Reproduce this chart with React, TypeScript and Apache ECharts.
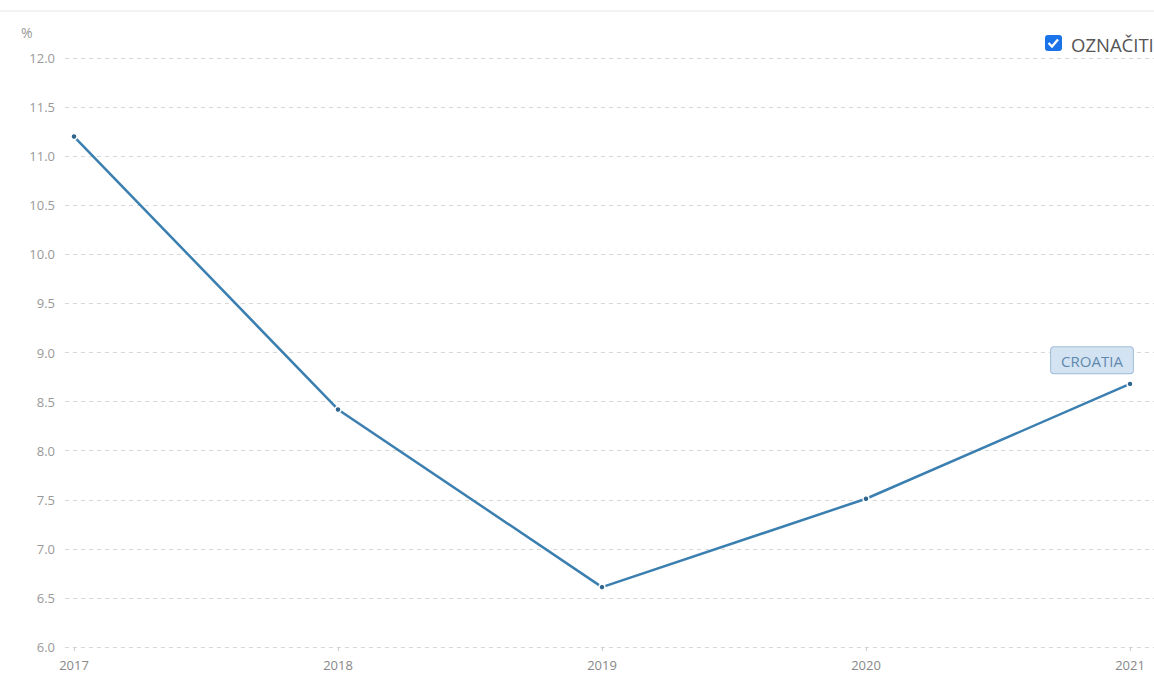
import React, { useEffect, useRef } from "react";
import * as echarts from "echarts";

const years = ["2017", "2018", "2019", "2020", "2021"];
const values = [11.2, 8.42, 6.61, 7.51, 8.68];
const seriesName = "CROATIA";
const yMin = 6;
const yMax = 12;
const yStep = 0.5;
const unitLabel = "%";
const legendLabel = "OZNAČITI";

export default function App() {
  const ref = useRef<HTMLDivElement>(null);
  useEffect(() => {
    if (!ref.current) return;
    const chart = echarts.init(ref.current, null, { renderer: "svg" });
    const font = "'Open Sans', 'Noto Sans', sans-serif";
    const last = values.length - 1;
    chart.setOption({
      animation: false,
      textStyle: { fontFamily: font },
      grid: [
        { left: 65, right: 0, top: 58, bottom: 30 },
        { left: 74, right: 24, top: 58, bottom: 30 },
      ],
      xAxis: [
        { type: "category", gridIndex: 0, show: false, data: years },
        {
          type: "category",
          gridIndex: 1,
          data: years,
          boundaryGap: false,
          axisLine: { show: false },
          axisTick: { show: true, length: 4, lineStyle: { color: "#ccc" } },
          axisLabel: { color: "#888", fontSize: 13, margin: 11, fontFamily: font },
          splitLine: { show: false },
        },
      ],
      yAxis: [
        {
          type: "value",
          gridIndex: 0,
          min: yMin,
          max: yMax,
          interval: yStep,
          axisLine: { show: false },
          axisTick: { show: false },
          axisLabel: {
            color: "#999",
            fontSize: 13,
            margin: 10,
            fontFamily: font,
            formatter: (v: number) => v.toFixed(1),
          },
          splitLine: { show: true, lineStyle: { color: "#d8d8d8", type: [4, 4], width: 1 } },
        },
        {
          type: "value",
          gridIndex: 1,
          min: yMin,
          max: yMax,
          interval: yStep,
          show: false,
          splitLine: { show: false },
        },
      ],
      graphic: [
        { type: "line", shape: { x1: 0, y1: 11, x2: 1154, y2: 11 }, style: { stroke: "#e6e6e6", lineWidth: 1 } },
        { type: "text", left: 21, top: 25, style: { text: unitLabel, fill: "#999", fontSize: 14, fontFamily: font } },
        { type: "rect", shape: { x: 1045, y: 35, width: 17, height: 16, r: 3 }, style: { fill: "#1a73e8" } },
        {
          type: "polyline",
          shape: { points: [[1048.5, 43], [1052, 46.5], [1058, 39.5]] },
          style: { stroke: "#fff", lineWidth: 2.3, fill: null },
        },
        {
          type: "text",
          x: 1071,
          y: 44,
          style: { text: legendLabel, fill: "#555", fontSize: 18.5, fontFamily: font, verticalAlign: "middle" },
        },
      ],
      series: [
        {
          name: seriesName,
          type: "line",
          xAxisIndex: 1,
          yAxisIndex: 1,
          data: values.map((v, i) =>
            i === last
              ? {
                  value: v,
                  label: {
                    show: true,
                    position: "top",
                    distance: 7,
                    offset: [-38, 0],
                    formatter: seriesName,
                    color: "#6189b0",
                    fontSize: 15,
                    fontFamily: font,
                    backgroundColor: "#d3e3f1",
                    borderColor: "#9dbcd8",
                    borderWidth: 1,
                    borderRadius: 3,
                    padding: [6, 10, 5, 10],
                  },
                }
              : v
          ),
          symbol: "circle",
          symbolSize: 6,
          showSymbol: true,
          lineStyle: { color: "#3b7fb0", width: 2.5 },
          itemStyle: { color: "#2f6690", borderColor: "#fff", borderWidth: 1.5 },
        },
      ],
    });
    return () => chart.dispose();
  }, []);
  return (
    <div
      ref={ref}
      style={{ position: "fixed", left: 0, top: 0, width: 1154, height: 677, background: "#fff" }}
    />
  );
}
